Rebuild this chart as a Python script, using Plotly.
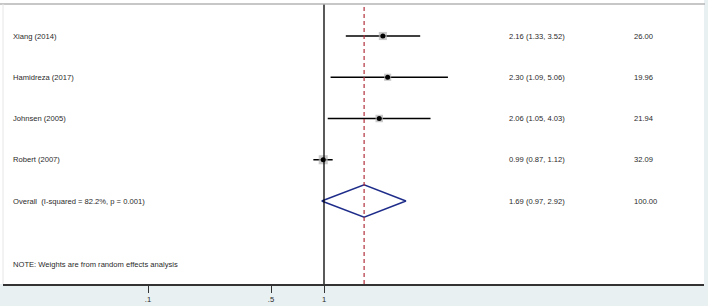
import plotly.graph_objects as go
import math

studies = ["Xiang (2014)", "Hamidreza (2017)", "Johnsen (2005)", "Robert (2007)"]
es = [2.16, 2.30, 2.06, 0.99]
lo = [1.33, 1.09, 1.05, 0.87]
hi = [3.52, 5.06, 4.03, 1.12]
weights = [26.00, 19.96, 21.94, 32.09]
overall_label = "Overall  (I-squared = 82.2%, p = 0.001)"
overall = [1.69, 0.97, 2.92]
overall_weight = 100.00
note = "NOTE: Weights are from random effects analysis"
tickvals = [0.1, 0.5, 1]
ticktext = [".1", ".5", "1"]

W, H = 708, 306
L, R, T, B = 3, 4, 4, 22
FONT = "Liberation Sans, Arial, sans-serif"

fig = go.Figure()

rows = list(range(len(studies)))
orow = len(studies)
note_row = 5.55

# CI lines
for i in rows:
    fig.add_trace(go.Scatter(x=[lo[i], hi[i]], y=[i, i], mode="lines",
                             line=dict(color="black", width=1.5),
                             showlegend=False, hoverinfo="skip"))
# weight boxes
fig.add_trace(go.Scatter(x=es, y=rows, mode="markers",
                         marker=dict(symbol="square", color="#b4b4b4",
                                     size=[1.6 * math.sqrt(w) for w in weights],
                                     line=dict(width=0)),
                         showlegend=False, hoverinfo="skip"))
# point estimates
fig.add_trace(go.Scatter(x=es, y=rows, mode="markers",
                         marker=dict(symbol="circle", color="black", size=5),
                         showlegend=False, hoverinfo="skip"))
# diamond
dh = 0.39
fig.add_trace(go.Scatter(x=[overall[1], overall[0], overall[2], overall[0], overall[1]],
                         y=[orow, orow - dh, orow, orow + dh, orow], mode="lines",
                         line=dict(color="#1f2d8a", width=1.5),
                         showlegend=False, hoverinfo="skip"))

# vertical lines
fig.add_shape(type="line", xref="x", yref="paper", x0=1, x1=1, y0=0, y1=1,
              line=dict(color="black", width=1.3))
fig.add_shape(type="line", xref="x", yref="paper", x0=overall[0], x1=overall[0], y0=0, y1=0.99,
              line=dict(color="#b0303c", width=1.2, dash="4px,3px"))

# frame / background pieces
pw = W - L - R
ph = H - T - B
def px2paper_x(px):
    return (px - L) / pw
def py2paper_y(py):
    return 1 - (py - T) / ph

fig.add_shape(type="rect", xref="paper", yref="paper", x0=px2paper_x(0), x1=px2paper_x(704),
              y0=1, y1=py2paper_y(0), fillcolor="white", line=dict(width=0), layer="below")
fig.add_shape(type="rect", xref="paper", yref="paper", x0=px2paper_x(0), x1=0,
              y0=0, y1=py2paper_y(0), fillcolor="white", line=dict(width=0), layer="below")
fig.add_shape(type="line", xref="paper", yref="paper", x0=px2paper_x(0), x1=px2paper_x(705),
              y0=1, y1=1, line=dict(color="#b5b5b5", width=1.5))
fig.add_shape(type="line", xref="paper", yref="paper", x0=0, x1=0,
              y0=0, y1=1, line=dict(color="#e6e6e6", width=1))

# text columns
def add_text(xp, row, text):
    fig.add_annotation(x=xp, y=row, xref="paper", yref="y", text=text, showarrow=False,
                       xanchor="left", yanchor="middle",
                       font=dict(family=FONT, size=7.6, color="#2a2a2a"))

for i in rows:
    add_text(px2paper_x(11), i, studies[i])
    add_text(px2paper_x(507), i, f"{es[i]:.2f} ({lo[i]:.2f}, {hi[i]:.2f})")
    add_text(px2paper_x(632), i, f"{weights[i]:.2f}")
add_text(px2paper_x(11), orow, overall_label)
add_text(px2paper_x(507), orow, f"{overall[0]:.2f} ({overall[1]:.2f}, {overall[2]:.2f})")
add_text(px2paper_x(632), orow, f"{overall_weight:.2f}")
add_text(px2paper_x(11), note_row, note)

# axis mapping: px = 324 + 176*log10(x)
xr = [(L - 324) / 176, (W - R - 324) / 176]
y_top = (T - 36) / 41.25
y_bot = (H - B - 36) / 41.25

fig.update_layout(
    width=W, height=H,
    margin=dict(l=L, r=R, t=T, b=B, pad=0),
    paper_bgcolor="#e8f0f2",
    plot_bgcolor="white",
    showlegend=False,
    xaxis=dict(type="log", range=xr, tickvals=tickvals, ticktext=ticktext,
               showgrid=False, zeroline=False, showline=True, linecolor="#333333",
               linewidth=2, ticks="outside", ticklen=7, tickwidth=1.2, tickcolor="#333333",
               tickfont=dict(family=FONT, size=7.6, color="#2a2a2a"), fixedrange=True),
    yaxis=dict(range=[y_bot, y_top], showgrid=False, zeroline=False, showline=False,
               showticklabels=False, ticks="", fixedrange=True),
)

fig.write_html("out.html")
